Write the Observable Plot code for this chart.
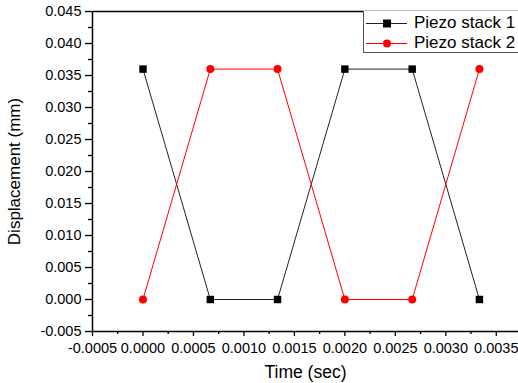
<!DOCTYPE html>
<html>
<head>
<meta charset="utf-8">
<script src="https://cdn.jsdelivr.net/npm/d3@7"></script>
<script src="https://cdn.jsdelivr.net/npm/@observablehq/plot@0.6"></script>
<style>
  html, body { margin: 0; padding: 0; background: #fff; }
  #wrap { position: relative; width: 518px; height: 383px; overflow: hidden; font-family: "Liberation Sans", Arial, sans-serif; }
  #legend { position: absolute; left: 363px; top: 11px; width: 170px; height: 41px; border: 1px solid #555; border-top: none; background: #fff; }
  .row { position: absolute; left: 0; height: 20px; display: flex; align-items: center; font-size: 17px; color: #000; }
  .row svg { margin-left: 1px; margin-right: 7px; }
</style>
</head>
<body>
<div id="wrap"></div>
<script>
// ---- data ----
const time = [0, 0.000667, 0.001333, 0.002, 0.002667, 0.003333];
const stack1 = [0.036, 0, 0, 0.036, 0.036, 0];
const stack2 = [0, 0.036, 0.036, 0, 0, 0.036];
const seriesNames = ["Piezo stack 1", "Piezo stack 2"];
const xMajor = [-0.0005, 0, 0.0005, 0.001, 0.0015, 0.002, 0.0025, 0.003, 0.0035];
const xMinor = [-0.00025, 0.00025, 0.00075, 0.00125, 0.00175, 0.00225, 0.00275, 0.00325];
const yMajor = [-0.005, 0, 0.005, 0.01, 0.015, 0.02, 0.025, 0.03, 0.035, 0.04, 0.045];
const yMinor = [-0.0025, 0.0025, 0.0075, 0.0125, 0.0175, 0.0225, 0.0275, 0.0325, 0.0375, 0.0425];
const xLabel = "Time (sec)";
const yLabel = "Displacement (mm)";

const s1 = time.map((t, i) => ({t, v: stack1[i]}));
const s2 = time.map((t, i) => ({t, v: stack2[i]}));

const black = "#000";
const red = "#ff0000";

const chart = Plot.plot({
  width: 518,
  height: 383,
  marginLeft: 92,
  marginRight: 0,
  marginTop: 11,
  marginBottom: 52,
  style: {fontFamily: "'Liberation Sans', Arial, sans-serif", fontSize: "14.5px", color: "#000", background: "#fff", overflow: "visible"},
  x: {domain: [-0.0005, 0.00372]},
  y: {domain: [-0.005, 0.045]},
  marks: [
    Plot.line(s1, {x: "t", y: "v", stroke: "#222", strokeWidth: 1}),
    Plot.line(s2, {x: "t", y: "v", stroke: red, strokeWidth: 1}),
    Plot.dot(s1, {x: "t", y: "v", symbol: "square", r: 4.2, fill: black, stroke: "none"}),
    Plot.dot(s2, {x: "t", y: "v", symbol: "circle", r: 4, fill: red, stroke: "none"}),
    Plot.ruleY([-0.005], {stroke: black, strokeWidth: 1.5}),
    Plot.ruleY([0.045], {stroke: black, strokeWidth: 1.5}),
    Plot.ruleX([-0.0005], {stroke: black, strokeWidth: 1.5}),
    Plot.axisX({ticks: xMajor, tickSize: 5, tickPadding: 6, strokeWidth: 1.3, tickFormat: d => d.toFixed(4), label: null, fontSize: 14.5}),
    Plot.axisX({ticks: xMinor, tickSize: 3, strokeWidth: 1.3, tickFormat: () => "", label: null}),
    Plot.axisY({ticks: yMajor, tickSize: 7, tickPadding: 4, strokeWidth: 1.3, tickFormat: d => d.toFixed(3), label: null, fontSize: 14.5}),
    Plot.axisY({ticks: yMinor, tickSize: 4, strokeWidth: 1.3, tickFormat: () => "", label: null}),
    Plot.text([xLabel], {frameAnchor: "bottom", lineAnchor: "middle", textAnchor: "middle", dy: 41, fontSize: 17.5, fill: black}),
    Plot.text([yLabel], {frameAnchor: "left", textAnchor: "middle", lineAnchor: "middle", dx: -78, rotate: -90, fontSize: 17, fill: black})
  ]
});

const wrap = document.getElementById("wrap");
wrap.appendChild(chart);

// legend
const legend = document.createElement("div");
legend.id = "legend";
const symbols = [
  {color: "#222", dot: `<rect x="18" y="5.5" width="8" height="8" fill="${black}"/>`},
  {color: red, dot: `<circle cx="22" cy="9.5" r="4" fill="${red}"/>`}
];
seriesNames.forEach((name, i) => {
  const row = document.createElement("div");
  row.className = "row";
  row.style.top = (2 + i * 20) + "px";
  row.innerHTML = `<svg width="42" height="19"><line x1="1" x2="42" y1="9.5" y2="9.5" stroke="${symbols[i].color}" stroke-width="1"/>${symbols[i].dot}</svg><span>${name}</span>`;
  legend.appendChild(row);
});
wrap.appendChild(legend);
</script>
</body>
</html>
